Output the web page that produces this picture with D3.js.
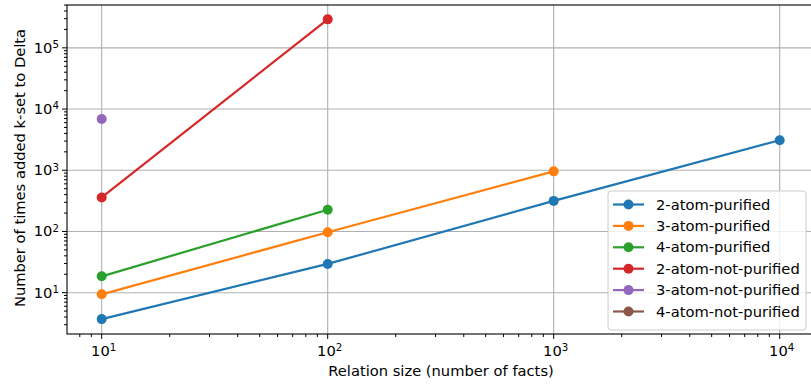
<!DOCTYPE html>
<html>
<head>
<meta charset="utf-8">
<script src="https://cdn.jsdelivr.net/npm/d3@7"></script>
<style>
  body { margin: 0; background: #fff; }
  svg { font-family: "DejaVu Sans", sans-serif; }
</style>
</head>
<body>
<svg id="chart" width="811" height="385"></svg>
<script>
// relation sizes
const sizes = [10, 100, 1000, 10000];

const series_names = ["2-atom-purified", "3-atom-purified", "4-atom-purified",
  "2-atom-not-purified", "3-atom-not-purified", "4-atom-not-purified"];
const series_colors = ["#1f77b4", "#ff7f0e", "#2ca02c", "#d62728", "#9467bd", "#8c564b"];

// values (null = not run)
const two_pur = [3.7, 29.5, 316, 3100];
const three_pur = [9.4, 97, 960, null];
const four_pur = [18.5, 226, null, null];
const two_notpur = [360, 292000, null, null];
const three_notpur = [6900, null, null, null];
const four_notpur = [null, null, null, null];

const x_ticks = [10, 100, 1000, 10000];
const y_ticks = [10, 100, 1000, 10000, 100000];

const all_series = [two_pur, three_pur, four_pur, two_notpur, three_notpur, four_notpur];

let svg = d3.select("#chart");

let font_size = "14.7px";
let marker_r = 5;
let plot_left = 67, plot_top = 5, plot_bottom = 334, plot_right = 813.6;
let x = d3.scaleLog().domain([Math.pow(10, 0.8465), Math.pow(10, 4.15)]).range([plot_left, plot_right]);
let y = d3.scaleLog().domain([Math.pow(10, 0.325), Math.pow(10, 5.70)]).range([plot_bottom, plot_top]);

// minor ticks: 2..9 in every decade inside the domain
function minor_ticks(scale) {
  let d = scale.domain();
  let out = [];
  for (let e = Math.floor(Math.log10(d[0])); e <= Math.ceil(Math.log10(d[1])); e++) {
    for (let m = 2; m <= 9; m++) {
      let v = m * Math.pow(10, e);
      if (v >= d[0] && v <= d[1]) out.push(v);
    }
  }
  return out;
}

// grid
svg.append("g").selectAll("line").data(x_ticks).enter().append("line")
  .attr("x1", d => x(d)).attr("x2", d => x(d))
  .attr("y1", plot_top).attr("y2", plot_bottom)
  .style("stroke", "#b0b0b0").style("stroke-width", "1.1px");
svg.append("g").selectAll("line").data(y_ticks).enter().append("line")
  .attr("x1", plot_left).attr("x2", 811)
  .attr("y1", d => y(d)).attr("y2", d => y(d))
  .style("stroke", "#b0b0b0").style("stroke-width", "1.1px");

// lines + markers
all_series.forEach((vals, i) => {
  let pts = sizes.map((s, j) => [s, vals[j]]).filter(p => p[1] !== null);
  let line = d3.line().x(p => x(p[0])).y(p => y(p[1]));
  svg.append("path")
    .datum(pts)
    .attr("d", line)
    .style("fill", "none")
    .style("stroke", series_colors[i])
    .style("stroke-width", "2.2px");
  svg.append("g").selectAll("circle").data(pts).enter().append("circle")
    .attr("cx", p => x(p[0]))
    .attr("cy", p => y(p[1]))
    .attr("r", marker_r)
    .style("fill", series_colors[i]);
});

// spines
svg.append("rect")
  .attr("x", plot_left).attr("y", plot_top)
  .attr("width", plot_right - plot_left).attr("height", plot_bottom - plot_top)
  .style("fill", "none").style("stroke", "#000").style("stroke-width", "1.1px");

// ticks
let tick_g = svg.append("g").style("stroke", "#000").style("stroke-width", "1px");
tick_g.selectAll(".xmaj").data(x_ticks).enter().append("line")
  .attr("x1", d => x(d)).attr("x2", d => x(d)).attr("y1", plot_bottom).attr("y2", plot_bottom + 5);
tick_g.selectAll(".xmin").data(minor_ticks(x)).enter().append("line")
  .attr("x1", d => x(d)).attr("x2", d => x(d)).attr("y1", plot_bottom).attr("y2", plot_bottom + 3);
tick_g.selectAll(".ymaj").data(y_ticks).enter().append("line")
  .attr("x1", plot_left - 5).attr("x2", plot_left).attr("y1", d => y(d)).attr("y2", d => y(d));
tick_g.selectAll(".ymin").data(minor_ticks(y)).enter().append("line")
  .attr("x1", plot_left - 3).attr("x2", plot_left).attr("y1", d => y(d)).attr("y2", d => y(d));

function pow_label(sel) {
  sel.append("tspan").text("10");
  sel.append("tspan").attr("dy", "-0.45em").style("font-size", "10.3px")
    .text(d => Math.round(Math.log10(d)));
}

svg.append("g").selectAll("text").data(x_ticks).enter().append("text")
  .attr("x", d => x(d) + 2).attr("y", plot_bottom + 22)
  .attr("text-anchor", "middle")
  .style("font-size", font_size).style("fill", "#000")
  .call(pow_label);

svg.append("g").selectAll("text").data(y_ticks).enter().append("text")
  .attr("x", plot_left - 8).attr("y", d => y(d) + 5)
  .attr("text-anchor", "end")
  .style("font-size", font_size).style("fill", "#000")
  .call(pow_label);

// axis labels
svg.append("text")
  .attr("x", 441).attr("y", 376)
  .attr("text-anchor", "middle")
  .style("font-size", font_size)
  .text("Relation size (number of facts)");

svg.append("text")
  .attr("transform", `translate(25,168) rotate(-90)`)
  .attr("text-anchor", "middle")
  .style("font-size", font_size)
  .text("Number of times added k-set to Delta");

// legend
let lg = svg.append("g").attr("transform", "translate(608,191)");
lg.append("rect")
  .attr("width", 198).attr("height", 139).attr("rx", 3)
  .style("fill", "rgba(255,255,255,0.8)").style("stroke", "#cccccc").style("stroke-width", "1px");
series_names.forEach((name, i) => {
  let yy = 13.5 + i * 21.4;
  lg.append("line").attr("x1", 5).attr("x2", 36).attr("y1", yy).attr("y2", yy)
    .style("stroke", series_colors[i]).style("stroke-width", "2.2px");
  lg.append("circle").attr("cx", 20.5).attr("cy", yy).attr("r", marker_r)
    .style("fill", series_colors[i]);
  lg.append("text").attr("x", 48).attr("y", yy + 5)
    .style("font-size", font_size)
    .text(name);
});
</script>
</body>
</html>
